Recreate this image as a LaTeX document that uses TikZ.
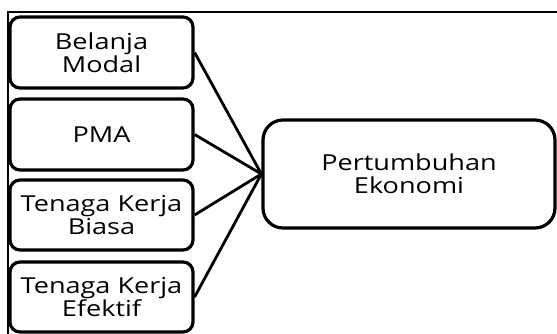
\documentclass[tikz,border=0pt]{standalone}
\usepackage{fontspec}
\setmainfont{Open Sans}[FakeStretch=1.23]
\begin{document}
\begin{tikzpicture}[x=1pt,y=-1pt,
  box/.style={draw=black, line width=3.2pt, rounded corners=10pt, align=center,
    inner sep=0pt, font=\fontsize{22}{23}\selectfont},
  conn/.style={draw=black, line width=2.8pt}]
\useasboundingbox (0,0) rectangle (557,334);
\draw[line width=1.6pt] (8,334) -- (8,12) -- (557,12);
\node[box, minimum width=183pt, minimum height=71pt] (b1) at (101.5,52.5) {Belanja\\Modal};
\node[box, minimum width=183pt, minimum height=71pt] (b2) at (101.5,134.5) {PMA};
\node[box, minimum width=183pt, minimum height=70pt] (b3) at (101.5,215) {Tenaga Kerja\\Biasa};
\node[box, minimum width=183pt, minimum height=70pt] (b4) at (101.5,297) {Tenaga Kerja\\Efektif};
\node[box, rounded corners=20pt, minimum width=292pt, minimum height=108pt] (r) at (409,174) {Pertumbuhan\\Ekonomi};
\foreach \b in {b1,b2,b3,b4} \draw[conn] (\b.east) -- (r.west);
\end{tikzpicture}
\end{document}
